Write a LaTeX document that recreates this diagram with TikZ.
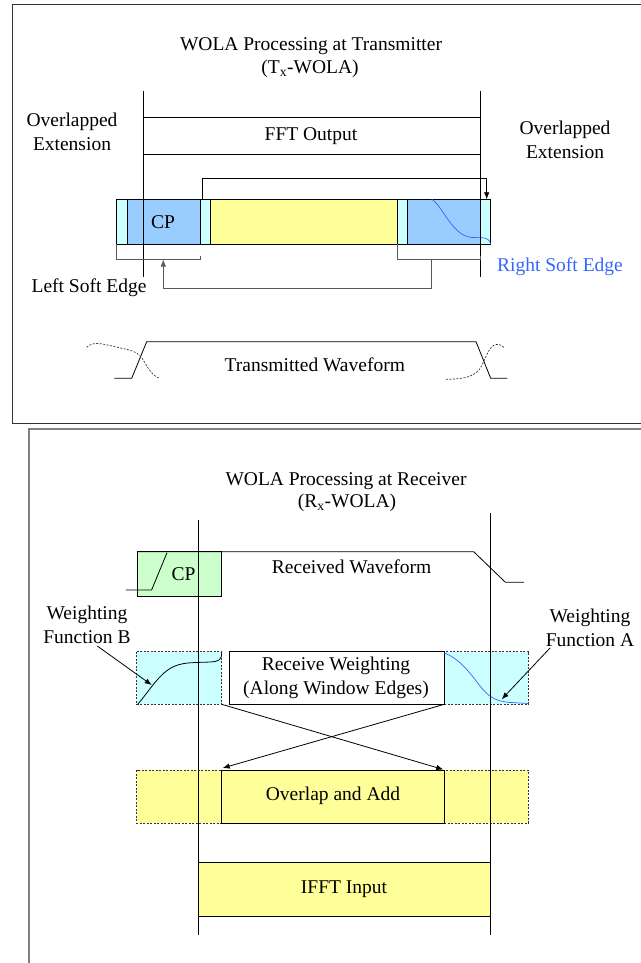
\documentclass[tikz,border=0pt]{standalone}
\usepackage{fontspec}
\setmainfont{Liberation Serif}
\usetikzlibrary{arrows.meta}
\definecolor{lcyan}{RGB}{204,255,255}
\definecolor{lblue}{RGB}{153,204,255}
\definecolor{lyellow}{RGB}{255,255,153}
\definecolor{lgreen}{RGB}{204,255,204}
\definecolor{softblue}{RGB}{51,102,255}
\begin{document}
\begin{tikzpicture}[x=1pt,y=-1pt,
  ln/.style={line width=0.8pt,black},
  brk/.style={line width=0.8pt,black!65},
  dsh/.style={line width=0.7pt,black!80,dash pattern=on 2pt off 1.5pt},
  arr/.style={ln,-{Latex[length=7pt,width=5.5pt]}},
  txt/.style={inner sep=0pt,align=center,font=\fontsize{19.5}{24}\selectfont},
  frame1/.style={line width=1pt,black!80},
  frame2/.style={line width=1.3pt,black!50}]
\useasboundingbox (0,0) rectangle (640,963);
% frames
\draw[frame1] (12,5) rectangle (680,423);
\draw[frame2] (29,1000) -- (29,429) -- (680,429);
% ===== Transmitter =====
\node[txt] (t1) at (311,46) {WOLA Processing at Transmitter};
\node[txt] (t2) at (310,69) {(T\textsubscript{x}-WOLA)};
\node[txt] (oel) at (72,132) {Overlapped\\Extension};
\node[txt] (oer) at (565,140) {Overlapped\\Extension};
\draw[ln] (143,117) -- (480,117);
\draw[ln] (143,154) -- (480,154);
\node[txt] (fft) at (311,136) {FFT Output};
% block
\draw[ln,fill=lcyan] (116.7,199.3) rectangle (127.3,244);
\draw[ln,fill=lblue] (127.3,199.3) rectangle (200,244);
\draw[ln,fill=lcyan] (200,199.3) rectangle (210,244);
\draw[ln,fill=lyellow] (210,199.3) rectangle (397.3,244);
\draw[ln,fill=lcyan] (397.3,199.3) rectangle (407.3,244);
\draw[ln,fill=lblue] (407.3,199.3) rectangle (480,244);
\draw[ln,fill=lcyan] (480,199.3) rectangle (490.7,244);
\node[txt] (cp1) at (163,222) {CP};
\draw[softblue,line width=0.7pt] (431.7,199.3) .. controls (443,206) and (452,236) .. (472,237.5) -- (482,237.7) .. controls (487,238) and (489.5,240) .. (490.7,244);
% vertical lines
\draw[ln] (143,91) -- (143,277);
\draw[ln] (480,91) -- (480,277);
% top arrow
\coordinate (ta0) at (202.7,199.3);
\coordinate (ta1) at (202.7,178.3);
\coordinate (ta2) at (486.7,178.3);
\coordinate (ta3) at (486.7,199.3);
\draw[arr] (ta0) -- (ta1) -- (ta2) -- (ta3);
% brackets
\draw[brk] (116.7,244) -- (116.7,259) -- (200,259) -- (200,255.5);
\draw[brk] (397.3,244) -- (397.3,259) -- (480,259) -- (480,255.5);
\coordinate (ba0) at (431,259);
\coordinate (ba1) at (431,288.3);
\coordinate (ba2) at (163.3,288.3);
\coordinate (ba3) at (163.3,259.5);
\draw[brk,-{Latex[length=7pt,width=5.5pt]}] (ba0) -- (ba1) -- (ba2) -- (ba3);
\node[txt] (lse) at (89,288) {Left Soft Edge};
\node[txt,text=softblue] (rse) at (560,267) {Right Soft Edge};
% transmitted waveform
\draw[ln] (114.3,378.3) -- (131.7,378.3) -- (146.7,341.7) -- (476,341.7) -- (490.7,378.3) -- (507.3,378.3);
\draw[dsh] (86.7,347.3) .. controls (92,342) and (100,343) .. (112,346) .. controls (128,350) and (136,350) .. (142,358) .. controls (148,368) and (153,377) .. (160,378.3);
\draw[dsh] (446,379.3) .. controls (460,379) and (472,378) .. (479,370) .. controls (486,360) and (488,346) .. (496,344.5) .. controls (500,344) and (503,346) .. (505,348.3);
\node[txt] (tw) at (314.8,364.3) {Transmitted Waveform};
% ===== Receiver =====
\node[txt] (r1) at (346,481) {WOLA Processing at Receiver};
\node[txt] (r2) at (347,503) {(R\textsubscript{x}-WOLA)};
% received waveform
\draw[ln,fill=lgreen] (137.4,551.7) rectangle (221.6,596.7);
\draw[ln] (137.4,551.7) -- (473.7,551.7) -- (505.4,582.3) -- (524,582.3);
\draw[ln] (125.9,590) -- (151.6,590) -- (167,552.7);
\node[txt] (cp2) at (183.6,574.3) {CP};
\node[txt] (rw) at (351.6,566.7) {Received Waveform};
% weighting
\draw[dsh,fill=lcyan] (136.7,651.7) rectangle (221.7,704.3);
\draw[dsh,fill=lcyan] (444.3,651.7) rectangle (528.3,704.3);
\draw[ln,fill=white] (229.3,651.7) rectangle (444.3,704.3);
\node[txt] (rcw) at (336,678) {Receive Weighting\\(Along Window Edges)};
\draw[ln] (137.7,704.3) .. controls (150,690) and (160,672) .. (175,666) .. controls (185,662) and (195,662.7) .. (210,662) .. controls (219,661.5) and (221.7,660) .. (221.7,652.5);
\draw[softblue,line width=0.7pt] (444.3,653) .. controls (458,658) and (468,670) .. (480,686) .. controls (488,696) and (495,701) .. (508,702.3) -- (528.3,703.5);
\node[txt] (wfb) at (87,625) {Weighting\\Function B};
\node[txt] (wfa) at (590,628) {Weighting\\Function A};
\coordinate (ab0) at (97.3,646);
\coordinate (ab1) at (151.7,685);
\coordinate (aa0) at (550,648);
\coordinate (aa1) at (501.7,699.3);
\draw[arr] (ab0) -- (ab1);
\draw[arr] (aa0) -- (aa1);
% overlap and add
\draw[dsh,fill=lyellow] (136.7,770) rectangle (528.3,823);
\draw[ln,fill=lyellow] (221.7,770) rectangle (444.3,823);
\node[txt] (oa) at (333,796) {Overlap and Add};
\coordinate (x0) at (221.7,704.3);
\coordinate (x1) at (443.3,769.5);
\coordinate (y0) at (444.3,704.3);
\coordinate (y1) at (222.7,768);
\draw[arr] (x0) -- (x1);
\draw[arr] (y0) -- (y1);
% IFFT
\draw[ln,fill=lyellow] (198.7,862) rectangle (490,916);
\node[txt] (ifft) at (344,889) {IFFT Input};
% vertical lines
\draw[ln] (198.7,520) -- (198.7,935);
\draw[ln] (490,513) -- (490,935);
\end{tikzpicture}
\end{document}
